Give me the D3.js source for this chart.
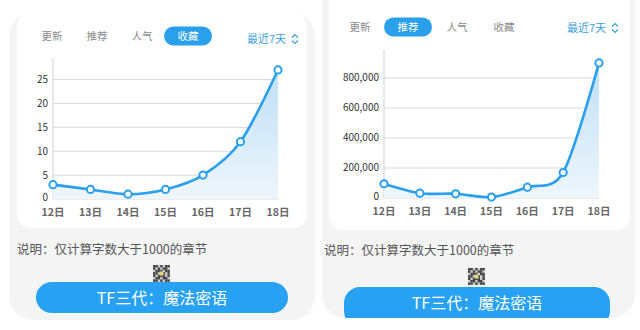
<!doctype html>
<html lang="zh">
<head>
<meta charset="utf-8">
<title>收藏 / 推荐 最近7天</title>
<script src="https://cdn.jsdelivr.net/npm/d3@7"></script>
<style>
  body { margin: 0; background: #fff; }
  svg { display: block; font-family: "Noto Sans CJK SC", "Noto Sans", sans-serif; }
</style>
</head>
<body>
<svg id="chart" width="640" height="330"></svg>
<script>
// data
const days = ["12日", "13日", "14日", "15日", "16日", "17日", "18日"];
const favValues = [3, 2, 1, 2, 5, 12, 27];                       // 收藏
const recValues = [95000, 32000, 28000, 6000, 72000, 170000, 900000]; // 推荐
const favTicks = [0, 5, 10, 15, 20, 25];
const recTicks = [0, 200000, 400000, 600000, 800000];
const tabs = ["更新", "推荐", "人气", "收藏"];
const note = "说明：仅计算字数大于1000的章节";
const buttonText = "TF三代：魔法密语";
const rangeText = "最近7天";

const blue = "#2a9fec";
const svg = d3.select("#chart");

const defs = svg.append("defs");
const grad = defs.append("linearGradient").attr("id", "areaFill")
  .attr("x1", 0).attr("y1", 0).attr("x2", 0).attr("y2", 1);
grad.append("stop").attr("offset", "0%").attr("stop-color", "#bfdff7");
grad.append("stop").attr("offset", "100%").attr("stop-color", "#eef6fb");

// panel = one phone screenshot
function panel(o) {
  const g = svg.append("g");
  g.append("rect").attr("x", o.bg[0]).attr("y", o.bg[1]).attr("width", o.bg[2]).attr("height", o.bg[3])
    .attr("rx", 24).attr("fill", "#f4f4f5");
  g.append("rect").attr("x", o.card[0]).attr("y", o.card[1]).attr("width", o.card[2]).attr("height", o.card[3])
    .attr("rx", 14).attr("fill", "#fff");

  // tabs
  tabs.forEach((t, i) => {
    const cx = o.tabX[i];
    if (i === o.active) {
      g.append("rect").attr("x", cx - 24).attr("y", o.tabY - 9.5).attr("width", 48).attr("height", 19)
        .attr("rx", 9.5).attr("fill", blue);
    }
    g.append("text").attr("x", cx).attr("y", o.tabY).attr("dy", "0.35em")
      .attr("text-anchor", "middle").attr("font-size", 10.5)
      .attr("fill", i === o.active ? "#fff" : "#8a8a8a").text(t);
  });
  g.append("text").attr("x", o.rangeX).attr("y", o.tabY + o.rangeDy).attr("dy", "0.35em")
    .attr("font-size", 11).attr("fill", "#3a9ee0").text(rangeText);
  // little up/down chevron
  const cx = o.rangeX + 48, cy = o.tabY + o.rangeDy;
  g.append("path").attr("d", `M${cx - 3},${cy - 1.5}L${cx},${cy - 4.5}L${cx + 3},${cy - 1.5}M${cx - 3},${cy + 1.5}L${cx},${cy + 4.5}L${cx + 3},${cy + 1.5}`)
    .attr("fill", "none").attr("stroke", "#3a9ee0").attr("stroke-width", 1.2);

  // chart
  const x = d3.scalePoint().domain(days).range(o.xRange);
  const y = d3.scaleLinear().domain([0, o.yMax]).range(o.yRange);
  const data = days.map((d, i) => ({ day: d, v: o.values[i] }));

  g.append("g").selectAll("line").data(o.ticks).join("line")
    .attr("x1", o.xRange[0]).attr("x2", o.xRange[1])
    .attr("y1", d => y(d)).attr("y2", d => y(d))
    .attr("stroke", "#d9d9d9").attr("stroke-width", 1);
  g.append("line").attr("x1", o.xRange[0]).attr("x2", o.xRange[0])
    .attr("y1", y(0)).attr("y2", y(o.yMax)).attr("stroke", "#d0d0d0");

  g.append("g").selectAll("text").data(o.ticks).join("text")
    .attr("x", o.xRange[0] - 5).attr("y", d => y(d) - (d === 0 ? 2 : 0)).attr("dy", "0.35em")
    .attr("text-anchor", "end").attr("font-size", 10).attr("fill", "#333")
    .text(d => d3.format(",")(d));
  g.append("g").selectAll("text").data(days).join("text")
    .attr("x", d => x(d)).attr("y", y(0) + 13).attr("dy", "0.35em")
    .attr("text-anchor", "middle").attr("font-size", 10.5).attr("font-weight", 700)
    .attr("fill", "#666").text(d => d);

  const curve = d3.curveCardinal.tension(0.1);
  const area = d3.area().x(d => x(d.day)).y0(y(0)).y1(d => y(d.v)).curve(curve);
  const line = d3.line().x(d => x(d.day)).y(d => y(d.v)).curve(curve);
  g.append("path").datum(data).attr("d", area).attr("fill", "url(#areaFill)");
  g.append("path").datum(data).attr("d", line).attr("fill", "none")
    .attr("stroke", blue).attr("stroke-width", 2.6);
  g.append("g").selectAll("circle").data(data).join("circle")
    .attr("cx", d => x(d.day)).attr("cy", d => y(d.v)).attr("r", 3.6)
    .attr("fill", "#fff").attr("stroke", blue).attr("stroke-width", 2);

  // note, tiny qr code, button
  g.append("text").attr("x", o.noteX).attr("y", o.noteY).attr("dy", "0.35em")
    .attr("font-size", 12.5).attr("fill", "#555").text(note);

  const qr = g.append("g").attr("transform", `translate(${o.qr[0]},${o.qr[1]})`);
  qr.append("rect").attr("width", 17).attr("height", 17).attr("fill", "#cfcfcf");
  const pattern = ["1101011", "1010110", "0111011", "1100101", "1011101", "0110110", "1101011"];
  pattern.forEach((row, r) => row.split("").forEach((c, k) => {
    if (c === "1") qr.append("rect").attr("x", k * 2.4).attr("y", r * 2.4)
      .attr("width", 2.4).attr("height", 2.4).attr("fill", "#444");
  }));
  qr.append("rect").attr("x", 6.5).attr("y", 6.5).attr("width", 4).attr("height", 4).attr("fill", "#e8d37a");

  g.append("rect").attr("x", o.btn[0]).attr("y", o.btn[1]).attr("width", o.btn[2]).attr("height", o.btn[3])
    .attr("rx", 16).attr("fill", "#27a2f2");
  g.append("text").attr("x", o.btn[0] + o.btn[2] / 2).attr("y", o.btn[1] + 16).attr("dy", "0.35em")
    .attr("text-anchor", "middle").attr("font-size", 16).attr("fill", "#fff").text(buttonText);
  return g;
}

panel({
  bg: [9, 12, 306, 308], card: [17, 12, 290, 216],
  active: 3, tabX: [52, 97, 142, 188], tabY: 36, rangeX: 247, rangeDy: 3,
  xRange: [53, 278], yRange: [199, 58], yMax: 29.5,
  values: favValues, ticks: favTicks,
  noteX: 17, noteY: 250, qr: [153, 265], btn: [36, 282, 252, 31]
});

panel({
  bg: [322, -30, 313, 348], card: [329, -30, 301, 260],
  active: 1, tabX: [360, 408, 457, 504], tabY: 27, rangeX: 567, rangeDy: 1,
  xRange: [384, 599], yRange: [198, 50], yMax: 986000,
  values: recValues, ticks: recTicks,
  noteX: 324, noteY: 251, qr: [468, 268], btn: [344, 287, 266, 40]
});

// screenshot on the right is cut off at the bottom
svg.append("rect").attr("x", 320).attr("y", 318).attr("width", 320).attr("height", 12).attr("fill", "#fff");
</script>
</body>
</html>
